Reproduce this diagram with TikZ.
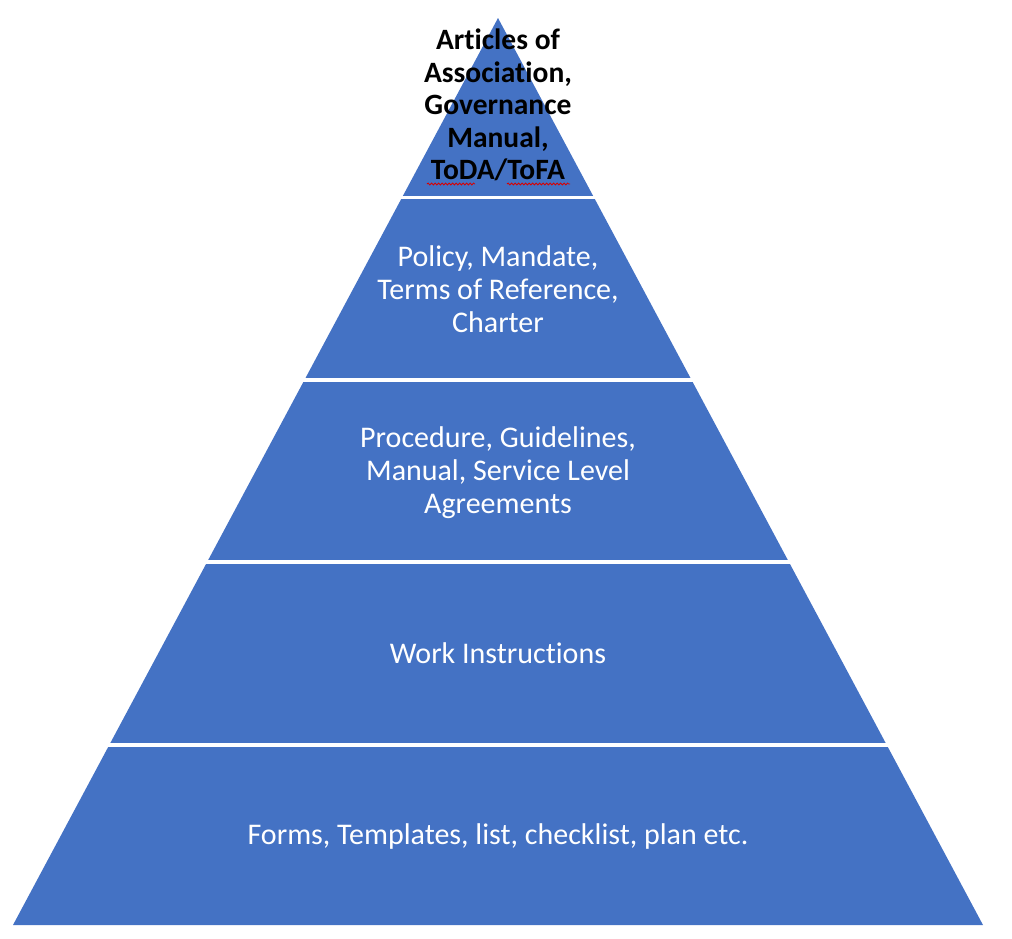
\documentclass[tikz,border=0pt]{standalone}
\usepackage{fontspec}
\setmainfont{Carlito}[RawFeature={-liga;-clig;-calt;-dlig}]
\usetikzlibrary{decorations.pathmorphing}
\definecolor{pyrblue}{HTML}{4472C4}
\begin{document}
\begin{tikzpicture}[x=1pt,y=-1pt,
  lbl/.style={font=\fontsize{30}{33}\selectfont, text=white, align=center, inner sep=0pt},
  toplbl/.style={font=\fontsize{29.5}{32.6}\selectfont\bfseries, text=black, align=center, inner sep=0pt},
  sep/.style={white, line width=3.5pt},
  squig/.style={red!85!black, line width=0.8pt, decorate, decoration={snake, amplitude=1pt, segment length=3.5pt}}]
\useasboundingbox (0,0) rectangle (1012,938);
\coordinate (apex) at (498,18);
\coordinate (bl) at (13,925);
\coordinate (br) at (983,925);
\fill[pyrblue] (apex) -- (br) -- (bl) -- cycle;
\foreach \y in {197.5, 380, 562, 745} {
  \draw[sep] (0,\y) -- (1012,\y);
}
\node[toplbl] (t1) at (498,105) {Articles of\\Association,\\Governance\\Manual,\\ToDA/ToFA};
\draw[squig] (427,184) -- (475,184);
\draw[squig] (507,184) -- (570,184);
\node[lbl] (t2) at (498,289) {Policy, Mandate,\\Terms of Reference,\\Charter};
\node[lbl] (t3) at (498,472.5) {Procedure, Guidelines,\\Manual, Service Level\\Agreements};
\node[lbl] (t4) at (498,653) {Work Instructions};
\node[lbl] (t5) at (498,836) {Forms, Templates, list, checklist, plan etc.};
\end{tikzpicture}
\end{document}
